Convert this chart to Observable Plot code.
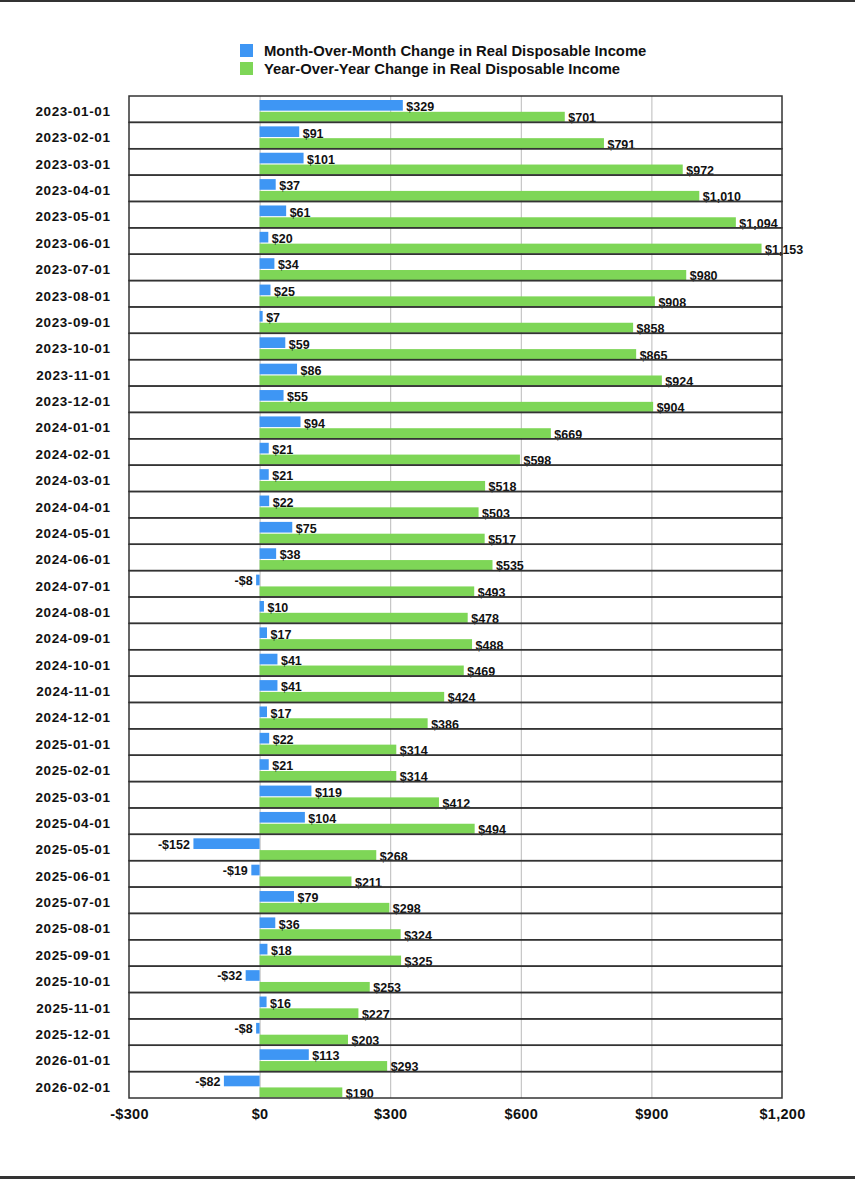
<!DOCTYPE html>
<html>
<head>
<meta charset="utf-8">
<script src="https://cdn.jsdelivr.net/npm/d3@7"></script>
<script src="https://cdn.jsdelivr.net/npm/@observablehq/plot@0.6"></script>
<style>
  body { margin: 0; background: #fff; width: 855px; font-family: "Liberation Sans", Arial, sans-serif; }
  #topline { height: 2px; background: #333; }
  #legend { position: relative; height: 86px; }
  .sw { position: absolute; left: 240px; width: 13px; height: 13px; }
  .lt { position: absolute; left: 264px; font-size: 14.8px; font-weight: bold; color: #111; line-height: 16px; letter-spacing: 0px; }
  #chart svg { display: block; }
  #chart .yax text { letter-spacing: 0.6px; }
  #chart .xax text { letter-spacing: 0.3px; }
  #bottomline { position: absolute; top: 1176px; left: 0; width: 855px; height: 3px; background: #333; }
</style>
</head>
<body>
<div id="topline"></div>
<div id="legend"></div>
<div id="chart"></div>
<div id="bottomline"></div>
<script>
const dates = [
  "2023-01-01","2023-02-01","2023-03-01","2023-04-01","2023-05-01","2023-06-01",
  "2023-07-01","2023-08-01","2023-09-01","2023-10-01","2023-11-01","2023-12-01",
  "2024-01-01","2024-02-01","2024-03-01","2024-04-01","2024-05-01","2024-06-01",
  "2024-07-01","2024-08-01","2024-09-01","2024-10-01","2024-11-01","2024-12-01",
  "2025-01-01","2025-02-01","2025-03-01","2025-04-01","2025-05-01","2025-06-01",
  "2025-07-01","2025-08-01","2025-09-01","2025-10-01","2025-11-01","2025-12-01",
  "2026-01-01","2026-02-01"
];
const momChange = [329, 91, 101, 37, 61, 20, 34, 25, 7, 59, 86, 55, 94, 21, 21, 22, 75, 38, -8, 10, 17, 41, 41, 17, 22, 21, 119, 104, -152, -19, 79, 36, 18, -32, 16, -8, 113, -82];
const yoyChange = [701, 791, 972, 1010, 1094, 1153, 980, 908, 858, 865, 924, 904, 669, 598, 518, 503, 517, 535, 493, 478, 488, 469, 424, 386, 314, 314, 412, 494, 268, 211, 298, 324, 325, 253, 227, 203, 293, 190];
const xTicks = [-300, 0, 300, 600, 900, 1200];
const gridTicks = [0, 300, 600, 900];
const seriesNames = ["Month-Over-Month Change in Real Disposable Income", "Year-Over-Year Change in Real Disposable Income"];
const seriesColors = ["#3e96f4", "#7ed657"];

// legend
const legend = document.getElementById("legend");
seriesNames.forEach((name, i) => {
  const sw = document.createElement("div");
  sw.className = "sw";
  sw.style.top = (42 + i * 17.5) + "px";
  sw.style.background = seriesColors[i];
  legend.appendChild(sw);
  const t = document.createElement("div");
  t.className = "lt";
  t.style.top = (41 + i * 17.5) + "px";
  t.textContent = name;
  legend.appendChild(t);
});

const money = v => (v < 0 ? "-$" : "$") + d3.format(",")(Math.abs(v));
const mom = dates.map((d, i) => ({date: d, value: momChange[i]}));
const yoy = dates.map((d, i) => ({date: d, value: yoyChange[i]}));
const momPos = mom.filter(d => d.value >= 0);
const momNeg = mom.filter(d => d.value < 0);

const chart = Plot.plot({
  width: 855,
  height: 1050,
  marginTop: 8,
  marginBottom: 40,
  marginLeft: 129,
  marginRight: 73,
  style: {fontFamily: "Liberation Sans, Arial, sans-serif", fontWeight: "bold", color: "#111", background: "#fff"},
  x: {domain: [-300, 1200], ticks: xTicks},
  y: {domain: dates, padding: 0, round: false},
  marks: [
    Plot.ruleX(gridTicks, {stroke: "#bbb", strokeWidth: 1}),
    Plot.barX(mom, {y: "date", x: "value", fill: seriesColors[0], insetTop: 4, insetBottom: 11.7}),
    Plot.barX(yoy, {y: "date", x: "value", fill: seriesColors[1], insetTop: 15.8, insetBottom: 0.6}),
    Plot.text(momPos, {y: "date", x: "value", text: d => money(d.value), dy: -2.5, dx: 3,
      textAnchor: "start", fontSize: 12.5, fontWeight: "bold", fill: "#111"}),
    Plot.text(momNeg, {y: "date", x: "value", text: d => money(d.value), dy: -3.5, dx: -4,
      textAnchor: "end", fontSize: 12.5, fontWeight: "bold", fill: "#111"}),
    Plot.text(yoy, {y: "date", x: "value", text: d => money(d.value), dy: 8.5, dx: 3,
      textAnchor: "start", fontSize: 12.5, fontWeight: "bold", fill: "#111"}),
    Plot.barX(dates, {y: d => d, x1: -300, x2: 1200, fill: "none", stroke: "#333", strokeWidth: 1.5}),
    Plot.axisY({tickSize: 0, tickPadding: 19, fontSize: 13.5, fontWeight: "bold", label: null, dy: 2, className: "yax"}),
    Plot.axisX({ticks: xTicks, tickSize: 0, tickPadding: 10, fontSize: 14.5, fontWeight: "bold", label: null,
      tickFormat: money, className: "xax"})
  ]
});
document.getElementById("chart").appendChild(chart);
</script>
</body>
</html>
